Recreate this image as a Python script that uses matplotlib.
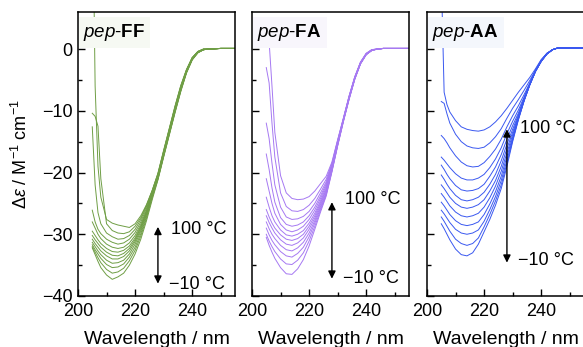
import matplotlib
matplotlib.use("Agg")
import matplotlib.pyplot as plt

plt.rcParams['font.family'] = ['Liberation Sans', 'DejaVu Sans']
plt.rcParams['mathtext.fontset'] = 'custom'
plt.rcParams['mathtext.rm'] = 'Liberation Sans'
plt.rcParams['mathtext.it'] = 'Liberation Sans:italic'
plt.rcParams['mathtext.bf'] = 'Liberation Sans:bold'

wl = [205, 206, 207, 208, 210, 212, 214, 216, 218, 220, 222, 224, 226,
      228, 230, 232, 234, 236, 238, 240, 242, 244, 246, 250, 255]
temps = [-10, 0, 10, 20, 30, 40, 50, 60, 70, 80, 90, 100]

ff_data = [
    [-32.2, -33.3, -34.4, -35.4, -36.6, -37.3, -36.9, -36.3, -35.0, -33.2, -30.8, -27.8, -24.4, -21.2, -17.5, -13.9, -10.3, -6.9, -3.9, -1.8, -0.6, -0.1, 0.0, 0.1, 0.1],
    [-32.0, -32.9, -33.8, -34.6, -35.7, -36.3, -36.1, -35.5, -34.3, -32.6, -30.3, -27.4, -24.1, -21.1, -17.4, -13.8, -10.2, -6.8, -3.8, -1.7, -0.6, -0.1, 0.0, 0.1, 0.1],
    [-31.7, -32.5, -33.2, -33.9, -34.9, -35.4, -35.3, -34.8, -33.7, -32.1, -29.9, -27.1, -23.9, -21.0, -17.3, -13.7, -10.1, -6.7, -3.8, -1.7, -0.6, -0.1, 0.0, 0.1, 0.1],
    [-31.3, -32.0, -32.7, -33.3, -34.2, -34.7, -34.6, -34.2, -33.2, -31.6, -29.5, -26.8, -23.7, -20.9, -17.2, -13.6, -10.0, -6.6, -3.7, -1.6, -0.5, -0.1, 0.0, 0.1, 0.1],
    [-30.8, -31.5, -32.1, -32.7, -33.5, -34.0, -34.0, -33.6, -32.7, -31.2, -29.2, -26.6, -23.6, -20.8, -17.1, -13.5, -9.9, -6.5, -3.7, -1.6, -0.5, -0.1, 0.0, 0.1, 0.1],
    [-30.2, -30.9, -31.5, -32.1, -32.9, -33.4, -33.5, -33.1, -32.3, -30.9, -28.9, -26.4, -23.5, -20.7, -17.0, -13.4, -9.8, -6.5, -3.6, -1.6, -0.5, -0.1, 0.0, 0.1, 0.1],
    [-29.5, -30.2, -30.9, -31.5, -32.3, -32.8, -32.9, -32.6, -31.9, -30.6, -28.7, -26.3, -23.4, -20.6, -16.9, -13.3, -9.7, -6.4, -3.6, -1.5, -0.5, -0.1, 0.0, 0.1, 0.1],
    [-28.0, -29.0, -30.0, -30.7, -31.6, -32.1, -32.3, -32.1, -31.4, -30.2, -28.4, -26.1, -23.3, -20.5, -16.8, -13.2, -9.6, -6.3, -3.5, -1.5, -0.5, -0.1, 0.0, 0.1, 0.1],
    [-26.1, -28.0, -29.2, -29.9, -30.8, -31.3, -31.6, -31.4, -30.8, -29.7, -28.0, -25.8, -23.2, -20.4, -16.7, -13.1, -9.5, -6.2, -3.5, -1.5, -0.4, 0.0, 0.0, 0.1, 0.1],
    [-12.6, -22.0, -26.5, -28.3, -29.8, -30.4, -30.8, -30.7, -30.2, -29.2, -27.6, -25.5, -23.0, -20.3, -16.6, -13.0, -9.4, -6.1, -3.4, -1.4, -0.4, 0.0, 0.0, 0.1, 0.1],
    [-10.4, -10.9, -12.5, -21.0, -28.3, -29.4, -29.8, -29.9, -29.6, -28.7, -27.3, -25.3, -22.9, -20.2, -16.5, -12.9, -9.3, -6.0, -3.4, -1.4, -0.4, 0.0, 0.0, 0.1, 0.1],
    [30.0, -6.0, -19.0, -24.0, -27.6, -28.2, -28.5, -28.7, -28.9, -28.3, -27.0, -25.2, -22.9, -20.1, -16.4, -12.8, -9.2, -5.9, -3.3, -1.4, -0.4, 0.0, 0.0, 0.1, 0.1],
]

fa_data = [
    [-30.5, -31.8, -32.9, -33.9, -35.4, -36.4, -36.5, -35.6, -34.1, -31.9, -29.2, -26.4, -23.8, -19.9, -15.7, -11.8, -8.2, -4.9, -2.4, -0.9, -0.2, 0.0, 0.1, 0.1, 0.1],
    [-30.0, -31.1, -32.0, -32.8, -34.0, -34.8, -34.9, -34.2, -33.0, -31.1, -28.7, -26.1, -23.6, -19.8, -15.6, -11.7, -8.1, -4.9, -2.4, -0.9, -0.2, 0.0, 0.1, 0.1, 0.1],
    [-29.0, -30.1, -31.0, -31.7, -32.8, -33.5, -33.7, -33.1, -32.1, -30.4, -28.2, -25.8, -23.4, -19.7, -15.6, -11.7, -8.1, -4.8, -2.4, -0.9, -0.2, 0.0, 0.1, 0.1, 0.1],
    [-28.0, -29.1, -30.0, -30.7, -31.8, -32.5, -32.7, -32.2, -31.3, -29.8, -27.8, -25.5, -23.2, -19.6, -15.5, -11.6, -8.0, -4.8, -2.3, -0.9, -0.2, 0.0, 0.1, 0.1, 0.1],
    [-27.0, -28.1, -29.0, -29.8, -30.9, -31.6, -31.8, -31.4, -30.6, -29.2, -27.4, -25.2, -22.9, -19.4, -15.4, -11.6, -8.0, -4.8, -2.3, -0.9, -0.2, 0.0, 0.1, 0.1, 0.1],
    [-26.0, -27.2, -28.2, -29.0, -30.1, -30.8, -31.0, -30.7, -30.0, -28.7, -27.0, -24.9, -22.7, -19.3, -15.3, -11.5, -7.9, -4.7, -2.3, -0.8, -0.2, 0.0, 0.1, 0.1, 0.1],
    [-24.0, -25.6, -27.0, -28.0, -29.3, -30.1, -30.3, -30.0, -29.4, -28.2, -26.6, -24.6, -22.4, -19.1, -15.2, -11.5, -7.9, -4.7, -2.3, -0.8, -0.2, 0.0, 0.1, 0.1, 0.1],
    [-21.0, -23.0, -25.0, -26.6, -28.4, -29.3, -29.6, -29.3, -28.7, -27.6, -26.1, -24.2, -22.1, -19.0, -15.1, -11.4, -7.8, -4.7, -2.2, -0.8, -0.2, 0.0, 0.1, 0.1, 0.1],
    [-17.0, -19.5, -22.5, -24.8, -27.3, -28.4, -28.7, -28.5, -28.0, -27.0, -25.6, -23.8, -21.8, -18.8, -15.0, -11.4, -7.8, -4.6, -2.2, -0.8, -0.1, 0.0, 0.1, 0.1, 0.1],
    [-12.0, -14.5, -18.5, -22.0, -25.6, -27.2, -27.6, -27.5, -27.1, -26.3, -25.0, -23.3, -21.5, -18.7, -14.9, -11.3, -7.7, -4.6, -2.2, -0.8, -0.1, 0.0, 0.1, 0.1, 0.1],
    [-3.0, -5.5, -12.0, -17.5, -23.3, -25.5, -26.2, -26.3, -26.0, -25.3, -24.2, -22.7, -21.1, -18.5, -14.8, -11.3, -7.7, -4.5, -2.2, -0.7, -0.1, 0.0, 0.1, 0.1, 0.1],
    [0.5, 1.2, -6.0, -13.5, -20.5, -23.3, -24.2, -24.4, -24.3, -23.9, -23.0, -21.8, -20.6, -18.3, -14.7, -11.2, -7.6, -4.5, -2.1, -0.7, -0.1, 0.0, 0.1, 0.1, 0.1],
]

aa_data = [
    [-28.3, -29.1, -30.0, -30.9, -32.4, -33.3, -33.5, -33.0, -31.6, -29.6, -27.6, -25.3, -22.6, -19.0, -15.0, -11.5, -8.4, -5.8, -3.6, -2.0, -0.8, -0.1, 0.2, 0.2, 0.2],
    [-27.2, -27.9, -28.7, -29.5, -30.8, -31.5, -31.8, -31.5, -30.6, -28.8, -26.8, -24.6, -22.0, -18.5, -14.8, -11.4, -8.4, -5.8, -3.6, -2.0, -0.8, -0.1, 0.2, 0.2, 0.2],
    [-26.1, -26.7, -27.4, -28.1, -29.2, -29.8, -30.0, -29.8, -29.3, -27.9, -26.0, -23.9, -21.3, -18.0, -14.6, -11.3, -8.4, -5.8, -3.6, -2.0, -0.8, -0.1, 0.2, 0.2, 0.2],
    [-24.8, -25.4, -26.1, -26.8, -27.8, -28.4, -28.6, -28.4, -28.0, -26.8, -25.1, -23.1, -20.6, -17.4, -14.3, -11.2, -8.3, -5.8, -3.6, -2.0, -0.8, -0.1, 0.2, 0.2, 0.2],
    [-23.4, -24.0, -24.7, -25.4, -26.4, -27.0, -27.2, -27.0, -26.6, -25.6, -24.1, -22.2, -19.8, -16.8, -13.9, -11.1, -8.3, -5.8, -3.6, -2.0, -0.8, -0.1, 0.2, 0.2, 0.2],
    [-22.0, -22.6, -23.3, -24.0, -25.0, -25.6, -25.8, -25.6, -25.2, -24.4, -23.0, -21.3, -19.0, -16.1, -13.5, -10.9, -8.2, -5.7, -3.6, -1.9, -0.8, -0.1, 0.2, 0.2, 0.2],
    [-20.4, -21.1, -21.9, -22.6, -23.7, -24.4, -24.6, -24.4, -24.0, -23.2, -21.9, -20.3, -18.1, -15.4, -13.0, -10.7, -8.1, -5.7, -3.6, -1.9, -0.8, -0.1, 0.2, 0.2, 0.2],
    [-18.8, -19.5, -20.3, -21.0, -22.1, -22.8, -23.0, -22.9, -22.6, -21.9, -20.6, -19.1, -17.1, -14.6, -12.4, -10.4, -8.0, -5.7, -3.6, -1.9, -0.8, -0.1, 0.2, 0.2, 0.2],
    [-17.5, -18.0, -18.6, -19.2, -20.2, -20.9, -21.2, -21.2, -20.9, -20.3, -19.2, -17.8, -16.0, -13.7, -11.7, -9.9, -7.8, -5.6, -3.6, -1.9, -0.7, -0.1, 0.2, 0.2, 0.2],
    [-14.0, -14.5, -15.2, -16.0, -17.3, -18.3, -18.9, -19.1, -19.0, -18.4, -17.4, -16.2, -14.6, -12.6, -10.8, -9.2, -7.4, -5.5, -3.5, -1.9, -0.7, -0.1, 0.2, 0.2, 0.2],
    [-8.5, -8.8, -10.5, -12.0, -13.8, -15.0, -15.7, -16.0, -16.1, -15.9, -15.2, -14.2, -12.9, -11.2, -9.6, -8.2, -6.7, -5.1, -3.4, -1.8, -0.7, -0.1, 0.2, 0.2, 0.2],
    [12.0, -7.0, -9.0, -10.2, -11.6, -12.6, -13.0, -13.2, -13.3, -13.1, -12.6, -11.8, -10.8, -9.6, -8.3, -7.0, -5.8, -4.6, -3.2, -1.7, -0.7, -0.1, 0.2, 0.2, 0.2],
]

names = ['FF', 'FA', 'AA']
datasets = [ff_data, fa_data, aa_data]
colors = ['#6f9e45', '#a679f2', '#3a58f0']
box_colors = ['#f6f9f3', '#f8f6fc', '#f4f7fc']
arrow_top = [-28.8, -24.8, -13.0]
arrow_bot = [-38.0, -37.2, -34.6]
label_hi = [-29.2, -24.3, -12.9]
label_lo = [-38.2, -37.2, -34.2]

W, H = 583, 347
fig = plt.figure(figsize=(W / 100, H / 100), dpi=100)
lefts = [78, 252, 427]
fs = 13

for i in range(3):
    ax = fig.add_axes([lefts[i] / W, (H - 296) / H, 157 / W, (296 - 12) / H])
    for row in datasets[i]:
        ax.plot(wl, row, color=colors[i], lw=0.7)
    ax.set_xlim(200, 255)
    ax.set_ylim(-40, 6)
    ax.set_xticks([200, 220, 240])
    ax.set_xticks([210, 230, 250], minor=True)
    ax.set_yticks([0, -10, -20, -30, -40])
    ax.set_yticks([-5, -15, -25, -35], minor=True)
    ax.tick_params(direction='in', which='major', length=5, width=1.0,
                   labelsize=fs)
    ax.tick_params(axis='x', which='major', pad=5)
    ax.tick_params(axis='y', which='major', pad=4)
    ax.tick_params(direction='in', which='minor', length=3, width=1.0)
    for sp in ax.spines.values():
        sp.set_linewidth(1.1)
    if i > 0:
        ax.set_yticklabels([])
    else:
        ax.set_ylabel(r'$\Delta\varepsilon$ / M$^{-1}$ cm$^{-1}$', fontsize=fs, labelpad=8)
    ax.set_xlabel('Wavelength / nm', fontsize=14, labelpad=8)
    ax.text(0.035, 0.965, r'$\mathit{pep}$-$\mathbf{' + names[i] + '}$',
            transform=ax.transAxes, ha='left', va='top', fontsize=fs + 0.5,
            bbox=dict(boxstyle='square,pad=0.25', fc=box_colors[i], ec='none'))
    ax.annotate('', xy=(228, arrow_top[i]), xytext=(228, arrow_bot[i]),
                arrowprops=dict(arrowstyle='<|-|>', color='k', lw=1.0,
                                mutation_scale=11, shrinkA=0, shrinkB=0))
    ax.text(232.5, label_hi[i], '100 °C', fontsize=fs, ha='left', va='center')
    ax.text(232.0, label_lo[i], '\u221210 °C', fontsize=fs, ha='left', va='center')

fig.savefig('out.png', dpi=100)
